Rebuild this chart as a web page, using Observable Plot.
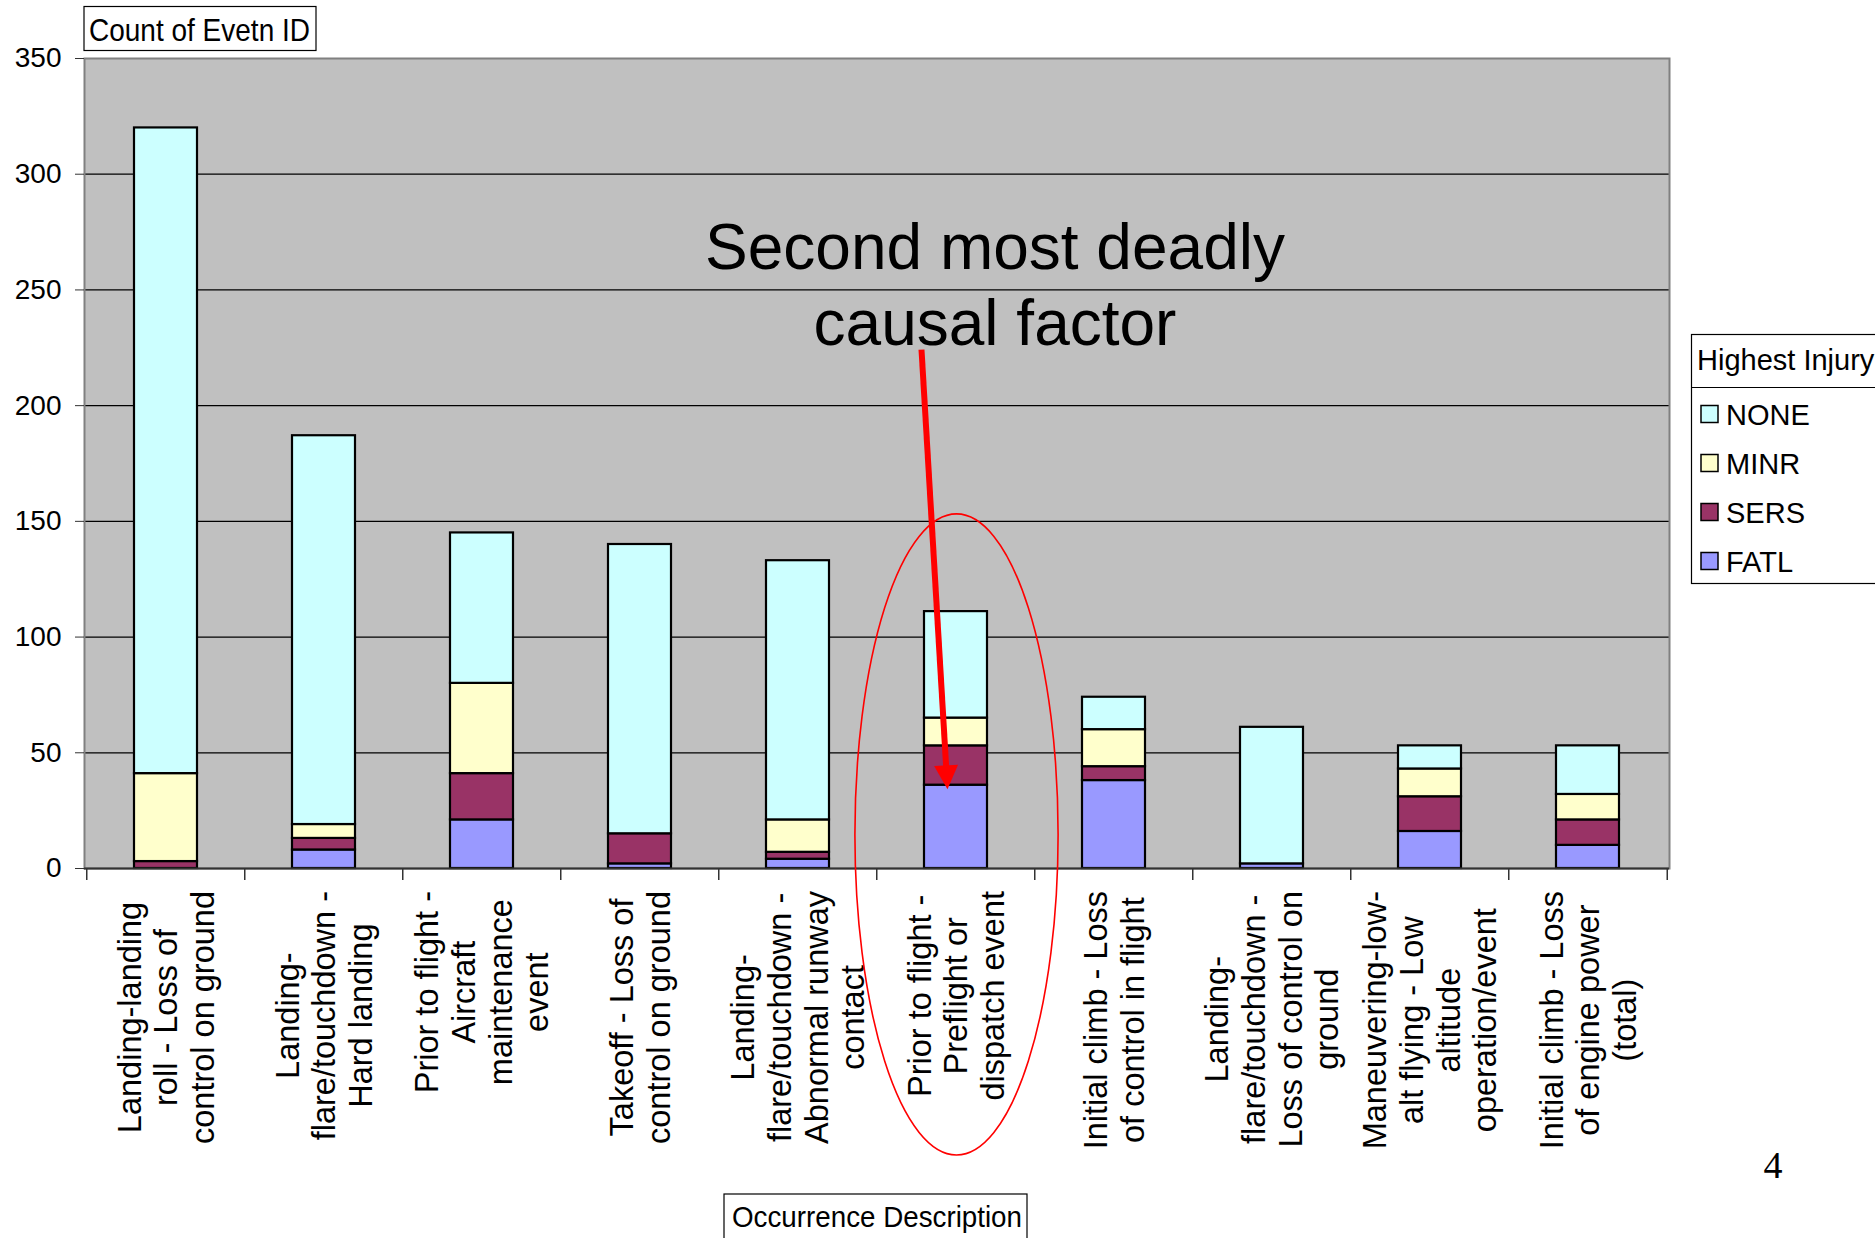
<!DOCTYPE html>
<html>
<head>
<meta charset="utf-8">
<script src="https://cdn.jsdelivr.net/npm/d3@7"></script>
<script src="https://cdn.jsdelivr.net/npm/@observablehq/plot@0.6"></script>
<style>
  html, body { margin: 0; padding: 0; background: #fff; }
  #chart { position: relative; width: 1875px; height: 1238px; overflow: hidden; }
  #chart svg { display: block; }
</style>
</head>
<body>
<div id="chart"></div>
<script>
// ---------------- DATA ----------------
const categories = [
  "Landing-landing roll - Loss of control on ground",
  "Landing-flare/touchdown - Hard landing",
  "Prior to flight - Aircraft maintenance event",
  "Takeoff - Loss of control on ground",
  "Landing-flare/touchdown - Abnormal runway contact",
  "Prior to flight - Preflight or dispatch event",
  "Initial climb - Loss of control in flight",
  "Landing-flare/touchdown - Loss of control on ground",
  "Maneuvering-low-alt flying - Low altitude operation/event",
  "Initial climb - Loss of engine power (total)"
];
const labelLines = [
  ["Landing-landing", "roll - Loss of", "control on ground"],
  ["Landing-", "flare/touchdown -", "Hard landing"],
  ["Prior to flight -", "Aircraft", "maintenance", "event"],
  ["Takeoff - Loss of", "control on ground"],
  ["Landing-", "flare/touchdown -", "Abnormal runway", "contact"],
  ["Prior to flight -", "Preflight or", "dispatch event"],
  ["Initial climb - Loss", "of control in flight"],
  ["Landing-", "flare/touchdown -", "Loss of control on", "ground"],
  ["Maneuvering-low-", "alt flying - Low", "altitude", "operation/event"],
  ["Initial climb - Loss", "of engine power", "(total)"]
];
const fatlValues = [0, 8, 21, 2, 4, 36, 38, 2, 16, 10];
const sersValues = [3, 5, 20, 13, 3, 17, 6, 0, 15, 11];
const minrValues = [38, 6, 39, 0, 14, 12, 16, 0, 12, 11];
const noneValues = [279, 168, 65, 125, 112, 46, 14, 59, 10, 21];

const injuries = ["NONE", "MINR", "SERS", "FATL"];
const injuryColors = ["#CCFFFF", "#FFFFCC", "#993366", "#9999FF"];
const stackOrder = ["FATL", "SERS", "MINR", "NONE"];
const yTicks = [0, 50, 100, 150, 200, 250, 300, 350];

const yTitle = "Count of Evetn ID";
const xTitle = "Occurrence Description";
const legendTitle = "Highest Injury";
const annotationLines = ["Second most deadly", "causal factor"];
const pageNumber = "4";
const highlighted = categories[5];
// annotation anchors (data units)
const annotationY = 253;
const arrowStartY = 224;
const arrowTipY = 34;
const ellipseTopY = 153;
const ellipseCenterY = 14.5;

// ---------------- TABLE ----------------
const seriesByInjury = {NONE: noneValues, MINR: minrValues, SERS: sersValues, FATL: fatlValues};
const rows = [];
categories.forEach((cat, i) => {
  for (const inj of stackOrder) rows.push({cat, injury: inj, count: seriesByInjury[inj][i]});
});

// ---------------- LAYOUT ----------------
const W = 1875, H = 1238;
const ML = 84, MR = 206, MT = 58, MB = 370;
const step = (W - ML - MR) / categories.length;
const FONT = "'Liberation Sans', Arial, Helvetica, sans-serif";

const plot = Plot.plot({
  width: W,
  height: H,
  marginLeft: ML,
  marginRight: MR,
  marginTop: MT,
  marginBottom: MB,
  style: {fontFamily: FONT, background: "#fff", color: "#000"},
  x: {domain: categories, paddingInner: 0.6, paddingOuter: 0.3, align: 0.5, label: null},
  y: {domain: [0, 350], label: null},
  color: {domain: injuries, range: injuryColors},
  marks: [
    Plot.frame({fill: "#C0C0C0", stroke: null}),
    Plot.ruleY(yTicks.filter(t => t > 0 && t < 350), {stroke: "#000", strokeWidth: 1.3}),
    Plot.frame({stroke: "#808080", strokeWidth: 2}),
    Plot.barY(rows, {x: "cat", y: "count", fill: "injury", stroke: "#000", strokeWidth: 2.2, order: stackOrder}),
    Plot.ruleY([0], {stroke: "#333", strokeWidth: 2}),
    Plot.axisY({ticks: yTicks, tickSize: 9, tickPadding: 14, fontSize: 28, stroke: "#333", label: null, tickFormat: d => String(d)}),
    Plot.ruleX(categories, {x: d => d, y1: 0, y2: 0, insetBottom: -12, dx: -step / 2, stroke: "#333", strokeWidth: 1.5}),
    Plot.ruleX([categories[categories.length - 1]], {x: d => d, y1: 0, y2: 0, insetBottom: -12, dx: step / 2, stroke: "#333", strokeWidth: 1.5}),
    Plot.axisX({
      tickSize: 0, tickPadding: 0, tickRotate: -90,
      textAnchor: "middle", lineAnchor: "middle", lineHeight: 1.13,
      fontSize: 32.5, label: null,
      tickFormat: d => labelLines[categories.indexOf(d)].join("\n")
    }),
    Plot.text([annotationLines.join("\n")], {
      x: () => highlighted, y: () => annotationY, text: d => d,
      dx: 39, fontSize: 64, lineHeight: 1.18, lineAnchor: "middle", textAnchor: "middle", fill: "#000"
    })
  ]
});

document.getElementById("chart").appendChild(plot);

// ---------------- POST PROCESS ----------------
const svg = d3.select(plot);
const xs = plot.scale("x");
const ys = plot.scale("y");
const colorScale = plot.scale("color");
const bw = xs.bandwidth;

// x tick labels: top of each block aligned just below the axis (Excel style)
const labelTop = 891;
let axisG = null;
plot.querySelectorAll("g[aria-label]").forEach(g => {
  if (/x-axis tick label/.test(g.getAttribute("aria-label"))) axisG = g;
});
if (axisG) {
  axisG.removeAttribute("transform");
  axisG.querySelectorAll("text").forEach((t, i) => {
    const cat = categories[i];
    const spans = Array.from(t.querySelectorAll("tspan"));
    const L = spans.length ? d3.max(spans, s => s.getComputedTextLength()) : t.getComputedTextLength();
    const cx = xs.apply(cat) + bw / 2;
    t.setAttribute("transform", `translate(${cx},${labelTop + L / 2}) rotate(-90)`);
  });
}

// ellipse + arrow around the highlighted category
const hx = xs.apply(highlighted) + bw / 2;
const ann = svg.append("g").attr("class", "annotation");
ann.append("ellipse")
  .attr("cx", hx + 1)
  .attr("cy", ys.apply(ellipseCenterY))
  .attr("rx", step * 0.641)
  .attr("ry", ys.apply(ellipseCenterY) - ys.apply(ellipseTopY))
  .attr("fill", "none").attr("stroke", "#FF0000").attr("stroke-width", 1.6);

const S = [hx - 34, ys.apply(arrowStartY)];
const T = [hx - 8, ys.apply(arrowTipY)];
const len = Math.hypot(T[0] - S[0], T[1] - S[1]);
const u = [(T[0] - S[0]) / len, (T[1] - S[1]) / len];
const headLen = 24, headHalf = 12;
const B = [T[0] - u[0] * headLen, T[1] - u[1] * headLen];
const p = [-u[1], u[0]];
ann.append("line")
  .attr("x1", S[0]).attr("y1", S[1]).attr("x2", B[0] + u[0] * 2).attr("y2", B[1] + u[1] * 2)
  .attr("stroke", "#FF0000").attr("stroke-width", 6);
ann.append("polygon")
  .attr("points", [T, [B[0] + p[0] * headHalf, B[1] + p[1] * headHalf], [B[0] - p[0] * headHalf, B[1] - p[1] * headHalf]].map(q => q.join(",")).join(" "))
  .attr("fill", "#FF0000");

// y title box
const yt = svg.append("g").attr("text-anchor", "start");
yt.append("rect").attr("x", 84).attr("y", 6.5).attr("width", 232).attr("height", 44)
  .attr("fill", "#fff").attr("stroke", "#000").attr("stroke-width", 1.2);
yt.append("text").attr("x", 89).attr("y", 41).attr("font-size", 32).attr("font-family", FONT)
  .attr("text-anchor", "start")
  .attr("textLength", 221).attr("lengthAdjust", "spacingAndGlyphs").attr("fill", "#000").text(yTitle);

// x title box
const xt = svg.append("g").attr("text-anchor", "start");
xt.append("rect").attr("x", 724).attr("y", 1194).attr("width", 303).attr("height", 60)
  .attr("fill", "#fff").attr("stroke", "#000").attr("stroke-width", 1.2);
xt.append("text").attr("x", 732).attr("y", 1227).attr("font-size", 30).attr("font-family", FONT)
  .attr("text-anchor", "start")
  .attr("textLength", 290).attr("lengthAdjust", "spacingAndGlyphs").attr("fill", "#000").text(xTitle);

// legend
const lg = svg.append("g").attr("text-anchor", "start");
lg.append("rect").attr("x", 1691.5).attr("y", 334.5).attr("width", 220).attr("height", 249)
  .attr("fill", "#fff").attr("stroke", "#000").attr("stroke-width", 1.2);
lg.append("line").attr("x1", 1691.5).attr("x2", 1900).attr("y1", 387.5).attr("y2", 387.5)
  .attr("stroke", "#000").attr("stroke-width", 1.2);
lg.append("text").attr("x", 1697).attr("y", 370).attr("font-size", 29).attr("font-family", FONT)
  .attr("text-anchor", "start").attr("fill", "#000").text(legendTitle);
const rowCenters = [414, 463, 512, 561];
injuries.forEach((inj, i) => {
  const cy = rowCenters[i];
  lg.append("rect").attr("x", 1701).attr("y", cy - 8.5).attr("width", 17).attr("height", 17)
    .attr("fill", colorScale.apply(inj)).attr("stroke", "#000").attr("stroke-width", 1.5);
  lg.append("text").attr("x", 1726).attr("y", cy + 10.5).attr("font-size", 29).attr("font-family", FONT)
    .attr("text-anchor", "start").attr("fill", "#000").text(inj);
});

// page number
svg.append("text").attr("x", 1773).attr("y", 1178).attr("text-anchor", "middle")
  .attr("font-size", 38).attr("font-family", "'Liberation Serif', 'Times New Roman', serif")
  .attr("fill", "#000").text(pageNumber);
</script>
</body>
</html>
